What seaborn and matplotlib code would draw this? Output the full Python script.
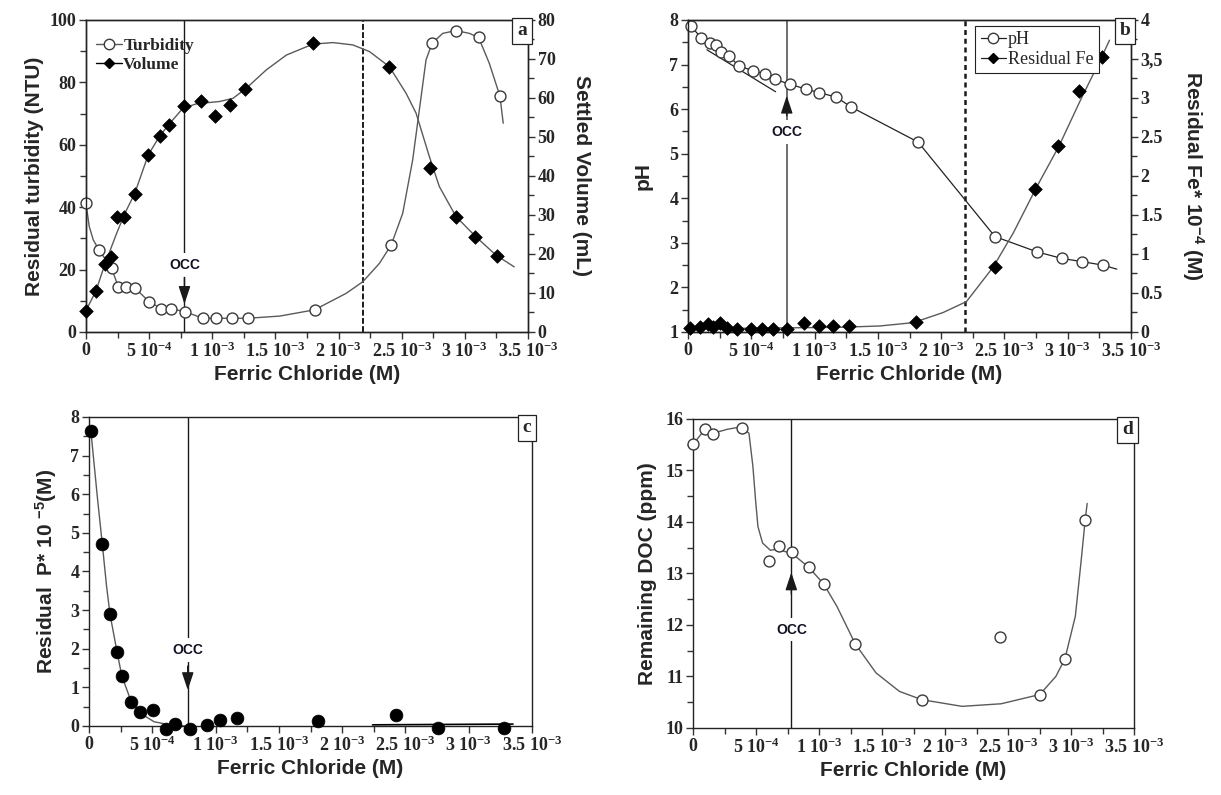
import matplotlib
matplotlib.use("Agg")
import matplotlib.pyplot as plt
from matplotlib.lines import Line2D
from matplotlib.ticker import FixedLocator, MultipleLocator
import seaborn as sns

# doses are in 10^-3 M

# --- panel a: turbidity (left axis) and settled volume (right axis)
turb_dose = [0.0, 0.103, 0.203, 0.256, 0.321, 0.387, 0.501, 0.596, 0.672, 0.783,
             0.928, 1.028, 1.159, 1.283, 1.810, 2.417, 2.740, 2.930, 3.109, 3.278]
turb_ntu = [41.2, 26.3, 20.4, 14.5, 14.5, 14.1, 9.7, 7.5, 7.5, 6.5,
            4.4, 4.4, 4.4, 4.4, 7.1, 27.9, 92.5, 96.6, 94.4, 75.6]
turb_fit_dose = [0.0, 0.026, 0.058, 0.103, 0.203, 0.256, 0.321, 0.387, 0.501, 0.596,
                 0.672, 0.783, 0.928, 1.028, 1.159, 1.283, 1.534, 1.810, 2.061, 2.192,
                 2.324, 2.417, 2.508, 2.587, 2.640, 2.693, 2.740, 2.825, 2.930, 3.036,
                 3.109, 3.194, 3.278, 3.304]
turb_fit_ntu = [41.2, 33.8, 29.5, 26.3, 20.4, 14.5, 14.5, 14.1, 9.7, 7.5,
                7.5, 6.5, 4.4, 4.4, 4.4, 4.4, 5.1, 7.1, 12.4, 16.1,
                22.0, 27.9, 38.0, 55.1, 71.2, 87.2, 92.5, 95.7, 96.6, 95.7,
                94.4, 86.1, 75.6, 66.9]

vol_dose = [0.0, 0.079, 0.150, 0.195, 0.243, 0.300, 0.387, 0.488, 0.585, 0.659, 0.775,
            0.907, 1.020, 1.144, 1.262, 1.797, 2.403, 2.727, 2.930, 3.083, 3.254]
vol_ml = [5.5, 10.5, 17.4, 19.3, 29.4, 29.4, 35.3, 45.3, 50.3, 53.1, 58.0,
          59.3, 55.4, 58.2, 62.2, 74.0, 68.0, 42.1, 29.4, 24.4, 19.5]
vol_fit_dose = [0.0, 0.079, 0.150, 0.243, 0.308, 0.387, 0.493, 0.585, 0.664, 0.769,
                0.875, 1.059, 1.164, 1.270, 1.428, 1.587, 1.797, 1.955, 2.113, 2.245,
                2.403, 2.535, 2.614, 2.719, 2.798, 2.930, 3.088, 3.247, 3.391]
vol_fit_ml = [5.5, 10.5, 17.4, 25.3, 30.4, 35.6, 45.4, 50.3, 53.5, 57.4,
              58.5, 59.1, 59.9, 62.5, 67.2, 71.0, 73.8, 74.2, 73.6, 71.9,
              68.0, 61.2, 56.1, 45.0, 37.3, 29.6, 24.4, 19.7, 16.7]

# --- panel b: pH (left axis) and residual Fe (right axis)
ph_dose = [0.02, 0.104, 0.170, 0.218, 0.262, 0.323, 0.402, 0.513, 0.611, 0.684, 0.803,
           0.930, 1.035, 1.172, 1.286, 1.818, 2.425, 2.755, 2.953, 3.111, 3.277]
ph_value = [7.87, 7.60, 7.49, 7.44, 7.27, 7.19, 6.97, 6.86, 6.79, 6.67, 6.56,
            6.45, 6.37, 6.27, 6.05, 5.26, 3.14, 2.80, 2.65, 2.58, 2.50]
ph_tail_dose = [3.277, 3.388]
ph_tail_value = [2.50, 2.41]
ph_tangent_dose = [0.149, 0.692]
ph_tangent_value = [7.33, 6.39]

fe_dose = [0.012, 0.091, 0.157, 0.196, 0.255, 0.310, 0.386, 0.494, 0.587, 0.671, 0.782,
           0.914, 1.035, 1.146, 1.273, 1.805, 2.425, 2.741, 2.926, 3.090, 3.270]
fe_value = [0.055, 0.068, 0.10, 0.068, 0.11, 0.047, 0.034, 0.034, 0.034, 0.034, 0.034,
            0.12, 0.077, 0.077, 0.077, 0.13, 0.83, 1.83, 2.39, 3.09, 3.53]
fe_fit_dose = [0.0, 0.3, 0.6, 0.9, 1.2, 1.515, 1.78, 2.016, 2.2, 2.41, 2.57,
               2.755, 2.93, 3.10, 3.27, 3.33]
fe_fit_value = [0.04, 0.045, 0.05, 0.055, 0.06, 0.077, 0.12, 0.25, 0.39, 0.83, 1.27,
                1.86, 2.38, 2.97, 3.53, 3.74]

# --- panel c: residual phosphorus
p_dose = [0.015, 0.105, 0.166, 0.222, 0.259, 0.329, 0.406, 0.508, 0.612, 0.683, 0.797,
          0.936, 1.037, 1.166, 1.807, 2.428, 2.755, 3.278]
p_value = [7.63, 4.71, 2.89, 1.91, 1.30, 0.63, 0.35, 0.41, -0.09, 0.04, -0.09,
           0.03, 0.16, 0.20, 0.14, 0.29, -0.06, -0.06]
p_fit_dose = [0.015, 0.037, 0.068, 0.105, 0.139, 0.166, 0.222, 0.259, 0.329, 0.406,
              0.514, 0.637, 0.76]
p_fit_value = [7.63, 6.89, 5.86, 4.71, 3.61, 2.89, 1.91, 1.30, 0.67, 0.33,
               0.11, 0.03, 0.0]
p_flat_dose = [2.24, 3.35]
p_flat_value = [0.03, 0.05]

# --- panel d: remaining DOC
doc_dose = [0.0, 0.096, 0.155, 0.388, 0.599, 0.683, 0.785, 0.918, 1.036, 1.288,
            1.815, 2.436, 2.752, 2.951, 3.112]
doc_ppm = [15.51, 15.80, 15.70, 15.83, 13.25, 13.54, 13.41, 13.12, 12.80, 11.63,
           10.55, 11.77, 10.65, 11.34, 14.04]
doc_fit_dose = [0.0, 0.096, 0.155, 0.273, 0.388, 0.444, 0.475, 0.496, 0.515, 0.552,
                0.614, 0.661, 0.785, 0.918, 1.036, 1.142, 1.288, 1.452, 1.638, 1.815,
                2.135, 2.445, 2.752, 2.879, 2.951, 3.034, 3.081, 3.112, 3.128]
doc_fit_ppm = [15.51, 15.80, 15.72, 15.80, 15.85, 15.72, 15.08, 14.43, 13.91, 13.59,
               13.45, 13.47, 13.39, 13.12, 12.80, 12.36, 11.63, 11.07, 10.71, 10.55,
               10.42, 10.47, 10.65, 11.0, 11.34, 12.17, 13.27, 14.04, 14.36]

occ_dose = 0.78
dashed_dose = 2.19

dose_ticks = [0, 0.5, 1, 1.5, 2, 2.5, 3, 3.5]
dose_labels = ["0", r"5 10$^{\mathbf{-4}}$", r"1 10$^{\mathbf{-3}}$",
               r"1.5 10$^{\mathbf{-3}}$", r"2 10$^{\mathbf{-3}}$",
               r"2.5 10$^{\mathbf{-3}}$", r"3 10$^{\mathbf{-3}}$",
               r"3.5 10$^{\mathbf{-3}}$"]
fe_ticks = [0, 0.5, 1, 1.5, 2, 2.5, 3, 3.5, 4]
fe_labels = ["0", "0.5", "1", "1.5", "2", "2.5", "3", "3,5", "4"]

sns.set_theme(style="ticks")
plt.rcParams["font.family"] = ["Liberation Serif", "DejaVu Serif"]
plt.rcParams.update({
    "font.weight": "bold",
    "mathtext.fontset": "custom",
    "mathtext.rm": "Liberation Serif:bold",
    "mathtext.bf": "Liberation Serif:bold",
    "mathtext.it": "Liberation Serif:bold",
    "mathtext.sf": "Liberation Sans:bold",
    "mathtext.default": "bf",
    "axes.edgecolor": "#222222",
    "axes.linewidth": 1.0,
})
SANS = "Liberation Sans"
CURVE = "#5a5a5a"


def ticks(ax):
    ax.tick_params(which="both", direction="out", width=1, color="#333333",
                   labelsize=13, pad=2)
    ax.tick_params(which="major", length=5)
    ax.tick_params(which="minor", length=4)


def bold_ticklabels(ax):
    for lab in ax.get_xticklabels() + ax.get_yticklabels():
        lab.set_fontweight("bold")
        lab.set_fontfamily("Liberation Serif")


def dose_axis(ax):
    ax.set_xlim(0, 3.5)
    ax.xaxis.set_major_locator(FixedLocator(dose_ticks))
    ax.xaxis.set_minor_locator(MultipleLocator(0.25))
    ax.set_xticklabels(dose_labels)
    ax.set_xlabel("Ferric Chloride (M)", family=SANS, weight="bold", fontsize=15,
                  labelpad=3)
    ticks(ax)


def value_axis(ax, lo, hi, major, minor, label, right=False, pad=4):
    ax.set_ylim(lo, hi)
    ax.yaxis.set_major_locator(MultipleLocator(major))
    ax.yaxis.set_minor_locator(MultipleLocator(minor))
    if right:
        ax.set_ylabel(label, family=SANS, weight="bold", fontsize=15, rotation=270,
                      va="bottom", labelpad=pad)
    else:
        ax.set_ylabel(label, family=SANS, weight="bold", fontsize=15, labelpad=pad)
    ticks(ax)


def panel_letter(ax, letter):
    ax.text(0.998, 0.992, letter, transform=ax.transAxes, ha="right", va="top",
            fontsize=14, weight="bold", zorder=10,
            bbox=dict(boxstyle="square,pad=0.25", fc="white", ec="#222222", lw=0.9))


def occ_mark(ax, text_y, tail_y, tip_y, color="k", lw=1.0):
    ax.axvline(occ_dose, color=color, lw=lw, zorder=1)
    ax.text(occ_dose, text_y, "OCC", family=SANS, weight="bold", fontsize=10,
            ha="center", va="center", color="#111122", zorder=3,
            bbox=dict(boxstyle="square,pad=0.35", fc="white", ec="none"))
    ax.annotate("", xy=(occ_dose, tip_y), xytext=(occ_dose, tail_y), zorder=3,
                arrowprops=dict(arrowstyle="-|>,head_length=0.9,head_width=0.3",
                                color="k", lw=1.0, shrinkA=0, shrinkB=0))


def curve(ax, x, y, color=CURVE, lw=1.0):
    sns.lineplot(x=x, y=y, ax=ax, color=color, lw=lw, sort=False, estimator=None,
                 zorder=2)


def open_pts(ax, x, y, s=62):
    sns.scatterplot(x=x, y=y, ax=ax, marker="o", s=s, color="white",
                    edgecolor="#3a3a3a", linewidth=1.0, zorder=4, clip_on=False)


def diamonds(ax, x, y, s=48):
    sns.scatterplot(x=x, y=y, ax=ax, marker="D", s=s, color="black",
                    edgecolor="black", linewidth=0.5, zorder=4, clip_on=False)


fig = plt.figure(figsize=(12.21, 7.95), dpi=100)
ax_a = fig.add_axes([0.0704, 0.5824, 0.3620, 0.3925])
ax_b = fig.add_axes([0.5635, 0.5824, 0.3628, 0.3925])
ax_c = fig.add_axes([0.0729, 0.0868, 0.3628, 0.3887])
ax_d = fig.add_axes([0.5676, 0.0843, 0.3612, 0.3887])

# ---------------- a ----------------
ax_a.axvline(dashed_dose, color="k", lw=1.4, ls=(0, (3, 1.2)), zorder=1)
occ_mark(ax_a, 21.5, 17.5, 9.0)
curve(ax_a, turb_fit_dose, turb_fit_ntu)
open_pts(ax_a, turb_dose, turb_ntu)
dose_axis(ax_a)
value_axis(ax_a, 0, 100, 20, 10, "Residual turbidity (NTU)")
vol_ax = ax_a.twinx()
curve(vol_ax, vol_fit_dose, vol_fit_ml)
diamonds(vol_ax, vol_dose, vol_ml)
value_axis(vol_ax, 0, 80, 10, 5, "Settled Volume (mL)", right=True, pad=12)
vol_ax.set_xlim(0, 3.5)
panel_letter(vol_ax, "a")
handles = [Line2D([], [], color=CURVE, lw=1, marker="o", ms=7.5, mfc="white",
                  mec="#3a3a3a"),
           Line2D([], [], color="black", lw=1, marker="D", ms=5.5, mfc="black",
                  mec="black")]
vol_ax.legend(handles, ["Turbidity", "Volume"], loc="upper left",
              bbox_to_anchor=(0.0, 0.975), frameon=False, handlelength=1.5,
              handletextpad=0.05, labelspacing=0.15, borderaxespad=0.2,
              prop=dict(family="Liberation Serif", weight="bold", size=12.5))

# ---------------- b ----------------
ax_b.axvline(dashed_dose, color="k", lw=1.8, ls=(0, (2, 1.5)), zorder=1)
occ_mark(ax_b, 5.49, 5.85, 6.30, color="#555555", lw=1.2)
curve(ax_b, ph_dose, ph_value, color="#222222", lw=0.9)
curve(ax_b, ph_tail_dose, ph_tail_value, color="#222222", lw=0.9)
curve(ax_b, ph_tangent_dose, ph_tangent_value, color="#222222", lw=0.9)
open_pts(ax_b, ph_dose, ph_value)
dose_axis(ax_b)
value_axis(ax_b, 1, 8, 1, 0.5, "pH", pad=12)
fe_ax = ax_b.twinx()
curve(fe_ax, fe_fit_dose, fe_fit_value)
diamonds(fe_ax, fe_dose, fe_value)
value_axis(fe_ax, 0, 4, 0.5, 0.25, r"Residual Fe* 10$^{\mathsf{-4}}$ (M)",
           right=True, pad=12)
fe_ax.yaxis.set_major_locator(FixedLocator(fe_ticks))
fe_ax.set_yticklabels(fe_labels)
fe_ax.set_xlim(0, 3.5)
panel_letter(fe_ax, "b")
handles = [Line2D([], [], color="#222222", lw=0.9, marker="o", ms=7.5, mfc="white",
                  mec="#3a3a3a"),
           Line2D([], [], color="#222222", lw=0.9, marker="D", ms=5.5, mfc="black",
                  mec="black")]
leg = fe_ax.legend(handles, ["pH", "Residual Fe"], loc="upper left",
                   bbox_to_anchor=(0.648, 0.981), borderaxespad=0, fancybox=False,
                   edgecolor="#222222", framealpha=1, handlelength=1.4,
                   handletextpad=0.1, labelspacing=0.15, borderpad=0.3,
                   prop=dict(family="Liberation Serif", weight="normal", size=13))
leg.get_frame().set_linewidth(0.8)

# ---------------- c ----------------
occ_mark(ax_c, 1.97, 1.55, 0.93)
curve(ax_c, p_fit_dose, p_fit_value)
curve(ax_c, p_flat_dose, p_flat_value, color="black", lw=1.2)
sns.scatterplot(x=p_dose, y=p_value, ax=ax_c, marker="o", s=85, color="black",
                edgecolor="black", linewidth=0.5, zorder=4, clip_on=False)
dose_axis(ax_c)
value_axis(ax_c, 0, 8, 1, 0.5, r"Residual  P* 10 $^{\mathsf{-5}}$(M)", pad=8)
panel_letter(ax_c, "c")

# ---------------- d ----------------
occ_mark(ax_d, 11.91, 12.6, 13.02)
curve(ax_d, doc_fit_dose, doc_fit_ppm)
open_pts(ax_d, doc_dose, doc_ppm)
dose_axis(ax_d)
value_axis(ax_d, 10, 16, 1, 0.5, "Remaining DOC (ppm)", pad=6)
panel_letter(ax_d, "d")

for ax in (ax_a, vol_ax, ax_b, fe_ax, ax_c, ax_d):
    bold_ticklabels(ax)

fig.savefig("out.png", dpi=100)
